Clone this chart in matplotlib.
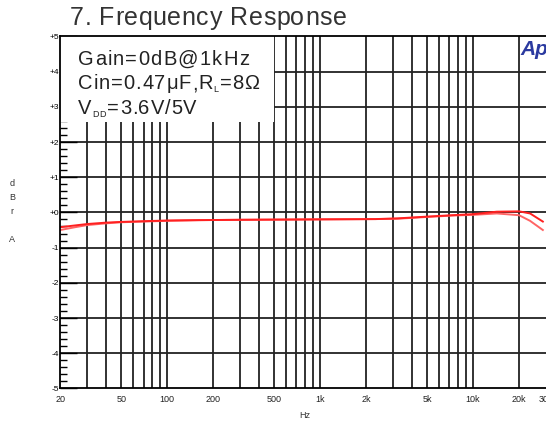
import numpy as np
import matplotlib.pyplot as plt
from matplotlib.patches import Rectangle

plt.rcParams['font.family'] = ['Liberation Sans', 'DejaVu Sans']

# data
freq = [20, 25, 30, 40, 50, 70, 100, 160, 300, 800, 2300, 3200, 5000,
        7300, 10000, 14300, 20000, 23600, 28600]
gain_a = [-0.42, -0.37, -0.33, -0.29, -0.27, -0.25, -0.23, -0.22, -0.21, -0.20,
          -0.19, -0.17, -0.12, -0.08, -0.05, 0.02, 0.03, -0.03, -0.26]
gain_b = [-0.50, -0.42, -0.36, -0.31, -0.28, -0.26, -0.24, -0.22, -0.21, -0.20,
          -0.19, -0.18, -0.13, -0.09, -0.07, -0.03, -0.08, -0.24, -0.50]

grid_freqs = [30, 40, 50, 60, 70, 80, 90, 100, 200, 300, 400, 500, 600, 700, 800, 900,
              1000, 2000, 3000, 4000, 5000, 6000, 7000, 8000, 9000, 10000, 20000]
xtick_vals = [20, 50, 100, 200, 500, 1000, 2000, 5000, 10000, 20000, 30000]
xtick_labels = ['20', '50', '100', '200', '500', '1k', '2k', '5k', '10k', '20k', '30k']
ytick_vals = [5, 4, 3, 2, 1, 0, -1, -2, -3, -4, -5]
ytick_labels = ['+5', '+4', '+3', '+2', '+1', '+0', '-1', '-2', '-3', '-4', '-5']

W, H = 546, 421
fig = plt.figure(figsize=(W / 100, H / 100), dpi=100)
renderer = fig.canvas.get_renderer()


def spaced(pieces, x, y, gap, color='#222222'):
    # draw text one character at a time (pixel coords from top-left), with extra letter spacing
    for s, size, dy in pieces:
        for ch in s:
            t = fig.text(x / W, 1 - (y + dy) / H, ch, fontsize=size, color=color,
                         ha='left', va='baseline', zorder=7)
            x += t.get_window_extent(renderer).width + gap
    return x


ax = fig.add_axes([60.4 / W, 1 - 388.4 / H, 1 - 60.4 / W, 352 / H])
ax.set_xscale('log')
ax.set_xlim(20, 28600)
ax.set_ylim(-5, 5)

for f in grid_freqs:
    ax.axvline(f, color='#222222', lw=1.3, zorder=1)
for g in ytick_vals[1:-1]:
    ax.axhline(g, color='#222222', lw=1.3, zorder=1)

ax.plot(freq, gain_b, color='#ff6464', lw=1.4, zorder=3)
ax.plot(freq, gain_a, color='#ff2020', lw=1.4, zorder=4)

# white note box in the top left corner
ax.add_patch(Rectangle((20, 2.57), 480, 2.43, facecolor='white', edgecolor='none', zorder=2))

ax.set_xticks(xtick_vals)
ax.set_xticklabels(xtick_labels, fontsize=6.5)
ax.xaxis.set_minor_locator(plt.NullLocator())
ax.tick_params(axis='x', length=0, pad=5, colors='#222222')
ax.set_yticks(ytick_vals)
ax.set_yticklabels(ytick_labels, fontsize=6)
ax.set_yticks(np.arange(-5, 5.01, 0.2), minor=True)
ax.tick_params(axis='y', which='major', direction='in', length=12, width=1.0, pad=1)
ax.tick_params(axis='y', which='minor', direction='in', length=5, width=1.0)

for s in ['top', 'left', 'bottom']:
    ax.spines[s].set_linewidth(1.3)
    ax.spines[s].set_zorder(6)
ax.spines['right'].set_visible(False)

# title and note text
spaced([("7. Frequency Response", 18, 0)], 70, 25, 0.55, color='#333333')
spaced([("Gain=0dB@1kHz", 14.5, 0)], 78, 65, 1.2)
spaced([("Cin=0.47μF,R", 14.5, 0), ("L", 6.5, 3), ("=8Ω", 14.5, 0)], 78, 89, 0.9)
spaced([("V", 14.5, 0), ("DD", 6.5, 3), ("=3.6V/5V", 14.5, 0)], 78, 114, 0.9)

fig.text(520 / W, 1 - 55 / H, "Ap", fontsize=15, color='#2b3aa0',
         fontweight='bold', style='italic', va='baseline', ha='left')

for letter, yy in zip("dBrA", [184, 198, 212, 239]):
    fig.text(12 / W, 1 - yy / H, letter, fontsize=6.5, color='#333333',
             ha='center', va='center')
fig.text(305 / W, 1 - 416 / H, "Hz", fontsize=6.5, color='#333333',
         ha='center', va='center')

fig.savefig('out.png', dpi=100)
